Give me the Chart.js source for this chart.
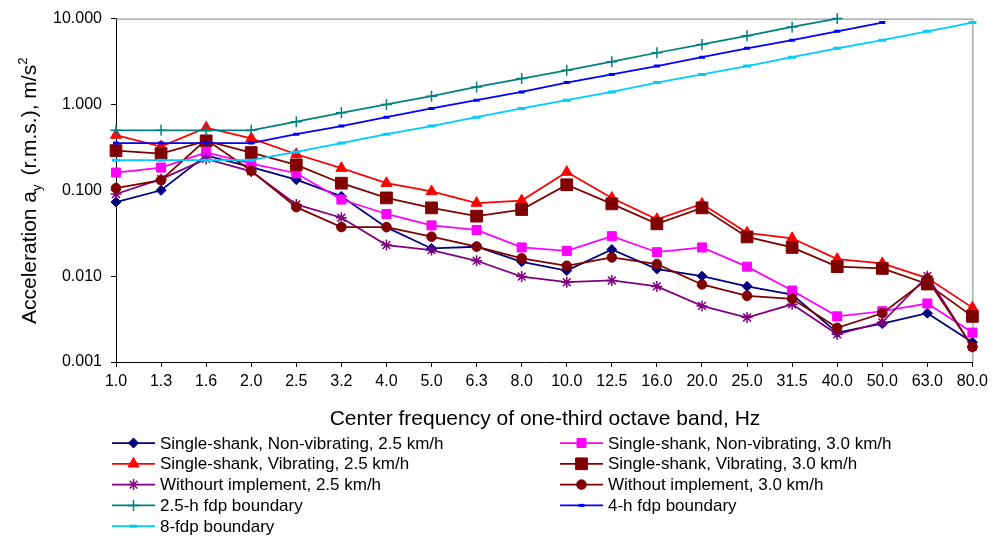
<!DOCTYPE html>
<html>
<head>
<meta charset="utf-8">
<script src="https://cdn.jsdelivr.net/npm/chart.js@4.4.1/dist/chart.umd.min.js"></script>
<style>
  html, body { margin: 0; padding: 0; background: #fff; }
  #wrap { width: 993px; height: 538px; position: relative; }
</style>
</head>
<body>
<div id="wrap"><canvas id="accelChart"></canvas></div>
<script>
// Center frequencies of the one-third octave bands, Hz
const frequencies = ['1.0', '1.3', '1.6', '2.0', '2.5', '3.2', '4.0', '5.0', '6.3', '8.0',
                     '10.0', '12.5', '16.0', '20.0', '25.0', '31.5', '40.0', '50.0', '63.0', '80.0'];
const yTicks = [0.001, 0.01, 0.1, 1, 10];

// measured accelerations a_y, m/s^2
const ssNonVib25 = [0.073, 0.100, 0.255, 0.186, 0.133, 0.085, 0.037, 0.021, 0.022, 0.0147,
                    0.0116, 0.0204, 0.0121, 0.0100, 0.0076, 0.0061, 0.0022, 0.0028, 0.0037, 0.0017];
const ssNonVib30 = [0.161, 0.184, 0.277, 0.204, 0.158, 0.078, 0.053, 0.039, 0.0345, 0.0216,
                    0.0197, 0.0292, 0.019, 0.0216, 0.0129, 0.0068, 0.0034, 0.0039, 0.0048, 0.0022];
const ssVib25 = [0.44, 0.323, 0.535, 0.403, 0.263, 0.181, 0.121, 0.097, 0.071, 0.076,
                 0.163, 0.0815, 0.046, 0.0695, 0.032, 0.0276, 0.0158, 0.0141, 0.0095, 0.0043];
const ssVib30 = [0.29, 0.268, 0.376, 0.275, 0.198, 0.121, 0.0815, 0.0624, 0.050, 0.0597,
                 0.116, 0.0695, 0.0407, 0.0624, 0.0286, 0.0216, 0.0129, 0.0123, 0.0081, 0.0034];
const noImpl25 = [0.0906, 0.135, 0.232, 0.166, 0.0684, 0.0479, 0.023, 0.0201, 0.0151, 0.0099,
                  0.0085, 0.0089, 0.0076, 0.0045, 0.0033, 0.0047, 0.0021, 0.0029, 0.0100, 0.0015];
const noImpl30 = [0.106, 0.131, 0.39, 0.169, 0.0636, 0.0373, 0.0373, 0.0288, 0.0221, 0.0161,
                  0.0132, 0.0165, 0.0138, 0.0080, 0.0059, 0.00545, 0.0025, 0.0037, 0.0092, 0.0015];

// fatigue-decreased proficiency boundaries
const fdp25h = [0.5, 0.5, 0.5, 0.5, 0.63, 0.8, 1.0, 1.25, 1.6, 2.0,
                2.5, 3.15, 4.0, 5.0, 6.3, 8.0, 10.0, null, null, null];
const fdp4h = [0.355, 0.355, 0.355, 0.355, 0.45, 0.56, 0.71, 0.9, 1.12, 1.4,
               1.8, 2.24, 2.8, 3.55, 4.5, 5.6, 7.1, 9.0, null, null];
const fdp8h = [0.224, 0.224, 0.224, 0.224, 0.28, 0.355, 0.45, 0.56, 0.71, 0.9,
               1.12, 1.4, 1.8, 2.24, 2.8, 3.55, 4.5, 5.6, 7.1, 9.0];

const FONT = '"Liberation Sans", Arial, sans-serif';

function series(label, data, color, style, radius, bw) {
    return {
        label: label,
        data: data,
        borderColor: color,
        backgroundColor: color,
        borderWidth: 1.75,
        pointStyle: style,
        pointRadius: radius,
        pointHoverRadius: radius,
        pointBorderWidth: bw || 1,
        pointBackgroundColor: color,
        pointBorderColor: color,
        tension: 0,
        fill: false,
        clip: 10
    };
}

const datasets = [
    series('Single-shank, Non-vibrating, 2.5 km/h', ssNonVib25, '#000080', 'rectRot', 5),
    series('Single-shank, Non-vibrating, 3.0 km/h', ssNonVib30, '#FF00FF', 'rect', 6.4),
    series('Single-shank, Vibrating, 2.5 km/h', ssVib25, '#FF0000', 'triangle', 6.4),
    series('Single-shank, Vibrating, 3.0 km/h', ssVib30, '#800000', 'rect', 8.3),
    series('Withourt implement, 2.5 km/h', noImpl25, '#800080', 'star', 5.5, 1.5),
    series('Without implement, 3.0 km/h', noImpl30, '#800000', 'circle', 4.8),
    series('2.5-h fdp boundary', fdp25h, '#008080', 'cross', 5.5, 1.5),
    series('4-h fdp boundary', fdp4h, '#0000FF', 'line', 3, 3),
    series('8-fdp boundary', fdp8h, '#00CCFF', 'line', 4, 3)
];
datasets.forEach((d, i) => { d.order = datasets.length - i; });

// Plot frame, axis titles and the two-column legend
const decorations = {
    id: 'decorations',
    beforeDatasetsDraw(chart) {
        const ctx = chart.ctx;
        const a = chart.chartArea;
        ctx.save();
        ctx.strokeStyle = '#808080';
        ctx.lineWidth = 1;
        ctx.beginPath();
        ctx.moveTo(a.left, a.top + 0.5);
        ctx.lineTo(a.right + 0.5, a.top + 0.5);
        ctx.lineTo(a.right + 0.5, a.bottom);
        ctx.stroke();
        ctx.restore();
    },
    afterDraw(chart) {
        const ctx = chart.ctx;
        const a = chart.chartArea;
        ctx.save();
        ctx.fillStyle = '#000';

        // x title
        ctx.font = '21px ' + FONT;
        ctx.textAlign = 'center';
        ctx.textBaseline = 'alphabetic';
        ctx.fillText('Center frequency of one-third octave band, Hz', 545, 425);

        // y title with subscript and superscript
        const parts = [
            { t: 'Acceleration a', f: '21px ' + FONT, dy: 0 },
            { t: 'y', f: '13px ' + FONT, dy: 5 },
            { t: ' (r.m.s.), m/s', f: '21px ' + FONT, dy: 0 },
            { t: '2', f: '13px ' + FONT, dy: -9 }
        ];
        let total = 0;
        parts.forEach(p => { ctx.font = p.f; p.w = ctx.measureText(p.t).width; total += p.w; });
        ctx.translate(36, (a.top + a.bottom) / 2 + 2);
        ctx.rotate(-Math.PI / 2);
        ctx.textAlign = 'left';
        let x = -total / 2;
        parts.forEach(p => { ctx.font = p.f; ctx.fillText(p.t, x, p.dy); x += p.w + (p.t === 'y' ? 3 : 0); });
        ctx.setTransform(1, 0, 0, 1, 0, 0);

        // legend
        const cols = [112, 560];
        ctx.font = '17px ' + FONT;
        ctx.textAlign = 'left';
        ctx.textBaseline = 'middle';
        chart.data.datasets.forEach((d, i) => {
            const lx = cols[i % 2];
            const ly = 443 + Math.floor(i / 2) * 20.8;
            ctx.strokeStyle = d.borderColor;
            ctx.lineWidth = d.borderWidth;
            ctx.beginPath();
            ctx.moveTo(lx, ly);
            ctx.lineTo(lx + 43, ly);
            ctx.stroke();
            ctx.fillStyle = d.pointBackgroundColor;
            ctx.strokeStyle = d.pointBorderColor;
            ctx.lineWidth = d.pointBorderWidth;
            Chart.helpers.drawPoint(ctx, {
                pointStyle: d.pointStyle, radius: d.pointRadius, rotation: 0, borderWidth: d.pointBorderWidth
            }, lx + 21.5, ly);
            ctx.fillStyle = '#000';
            ctx.fillText(d.label, lx + 48, ly + 1);
        });
        ctx.restore();
    }
};

const ctx = document.getElementById('accelChart').getContext('2d');
new Chart(ctx, {
    type: 'line',
    data: { labels: frequencies, datasets: datasets },
    options: {
        responsive: true,
        maintainAspectRatio: false,
        animation: false,
        devicePixelRatio: 1,
        layout: { padding: { top: 16, right: 20, bottom: 0, left: 0 } },
        plugins: { legend: { display: false }, tooltip: { enabled: false } },
        scales: {
            x: {
                type: 'category',
                offset: false,
                grid: { display: true, drawOnChartArea: false, drawTicks: true, tickLength: 5, color: '#000', offset: false },
                border: { color: '#000', width: 1 },
                ticks: { color: '#000', font: { size: 16, family: FONT }, padding: 5, maxRotation: 0, autoSkip: false },
                afterFit(scale) { scale.height = 176; }
            },
            y: {
                type: 'logarithmic',
                min: 0.001,
                max: 10,
                grid: { display: true, drawOnChartArea: false, drawTicks: true, tickLength: 5, color: '#000' },
                border: { color: '#000', width: 1 },
                ticks: {
                    color: '#000',
                    font: { size: 16, family: FONT },
                    padding: 9,
                    callback: v => Number(v).toFixed(3)
                },
                afterBuildTicks(scale) { scale.ticks = yTicks.map(v => ({ value: v })); },
                afterFit(scale) { scale.width = 116; }
            }
        }
    },
    plugins: [decorations]
});
</script>
</body>
</html>
